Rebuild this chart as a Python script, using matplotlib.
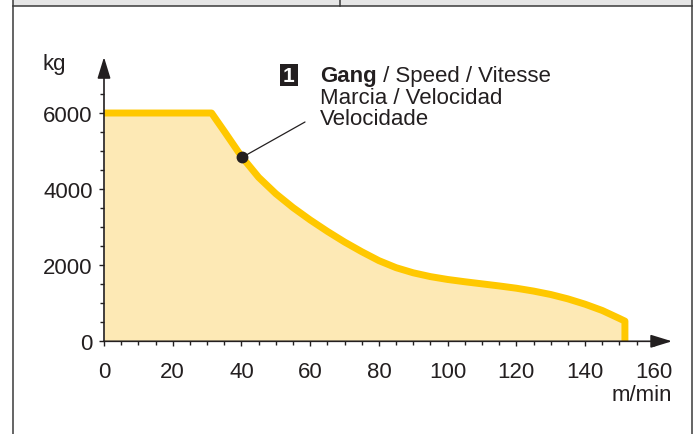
import matplotlib.pyplot as plt
import numpy as np
from matplotlib.patches import Rectangle
from matplotlib.lines import Line2D

plt.rcParams['font.family'] = ['Liberation Sans', 'DejaVu Sans']

# Daten: Last (kg) ueber Geschwindigkeit (m/min)
speed = [0, 31.3, 35, 40, 45, 50, 55, 60, 65, 70, 75, 80, 85, 90, 95, 100,
         105, 110, 115, 120, 125, 130, 135, 140, 145, 150, 151.6, 151.6]
load = [6000, 6000, 5520, 4860, 4310, 3880, 3515, 3190, 2890, 2610, 2355, 2120,
        1935, 1800, 1700, 1625, 1565, 1510, 1455, 1395, 1320, 1230, 1115, 975,
        810, 600, 530, 0]
note_speed = 40.3
note_load = 4840
note_lines = ["Marcia / Velocidad", "Velocidade"]

x_major = list(range(0, 161, 20))
y_major = [0, 2000, 4000, 6000]

W, H = 698, 435
FS = 16
dark = '#231f20'
line_c = '#ffc800'
fill_c = '#fde9b5'

fig = plt.figure(figsize=(W / 100, H / 100), dpi=100)

# Rahmen oben (graues Band) und Seitenlinien
fig.add_artist(Rectangle((12.7 / W, 1 - 6.5 / H), (692 - 12.7) / W, 6.5 / H,
                         transform=fig.transFigure, fc='#e6e6e6', ec='none'))
for xs, ys in [([12.7, 692], [6.5, 6.5]), ([12.7, 12.7], [0, H]),
               ([692, 692], [0, H]), ([340, 340], [0, 6.5])]:
    fig.add_artist(Line2D([x / W for x in xs], [1 - y / H for y in ys],
                          transform=fig.transFigure, color='#3a3a3a', lw=1.1))

ax = fig.add_axes([95.75 / W, 0.19126, 576.25 / W, 0.6752])
ax.set_xlim(-2.4, 165.3)
ax.set_ylim(-250, 7470)
ax.patch.set_visible(False)

ax.fill_between(speed, load, color=fill_c, lw=0, zorder=1)
ax.plot(speed, load, color=line_c, lw=5, solid_joinstyle='round',
        solid_capstyle='butt', zorder=2)

# Achsen mit Pfeilen
for s in ['top', 'right']:
    ax.spines[s].set_visible(False)
ax.spines['left'].set_position(('data', 0))
ax.spines['bottom'].set_position(('data', 0))
ax.spines['left'].set_visible(False)
ax.spines['bottom'].set_visible(False)
arrow = dict(arrowstyle='-|>,head_length=1.3,head_width=0.4', fc=dark, ec=dark,
             lw=1.2, shrinkA=0, shrinkB=0, mutation_scale=10)
ax.annotate('', xy=(165.3, 0), xytext=(0, 0), arrowprops=arrow, zorder=4)
ax.annotate('', xy=(0, 7470), xytext=(0, 0), arrowprops=arrow, zorder=4)

ax.set_xticks(x_major)
ax.set_xticks(np.arange(0, 160, 5), minor=True)
ax.set_yticks(y_major)
ax.set_yticks(np.arange(0, 6501, 500), minor=True)
ax.tick_params(which='major', length=3.6, width=1, color=dark,
               labelsize=FS, labelcolor=dark)
ax.tick_params(which='minor', length=2.8, width=1, color=dark)
ax.tick_params(axis='x', which='major', pad=10.5)
ax.tick_params(axis='y', which='major', pad=4.5)

fig.text(42 / W, 1 - 70 / H, 'kg', fontsize=FS, color=dark, va='baseline')
fig.text(672 / W, 1 - 401 / H, 'm/min', fontsize=FS, color=dark,
         ha='right', va='baseline')

# Beschriftung Kurve
ax.plot(note_speed, note_load, 'o', ms=7.5, color=dark, zorder=5)
ax.annotate('', xy=(note_speed, note_load), xytext=(305, H - 123),
            textcoords='figure pixels',
            arrowprops=dict(arrowstyle='-', lw=0.9, color=dark,
                            shrinkA=0, shrinkB=0))
fig.add_artist(Rectangle((280 / W, 1 - 87 / H), 18 / W, 21.7 / H,
                         transform=fig.transFigure, fc=dark, ec='none'))
fig.text(289 / W, 1 - 76.3 / H, '1', fontsize=15, fontweight='bold',
         color='white', ha='center', va='center')
t1 = fig.text(320 / W, 1 - 82 / H, 'Gang', fontsize=FS, fontweight='bold',
              color=dark, va='baseline')
fig.add_artist(plt.Annotation(' / Speed / Vitesse', xy=(1, 0), xycoords=t1,
                              va='bottom', fontsize=FS, color=dark))
for i, txt in enumerate(note_lines):
    fig.text(320 / W, 1 - (103.5 + 21.5 * i) / H, txt, fontsize=FS,
             color=dark, va='baseline')

fig.savefig('out.png', dpi=100)
